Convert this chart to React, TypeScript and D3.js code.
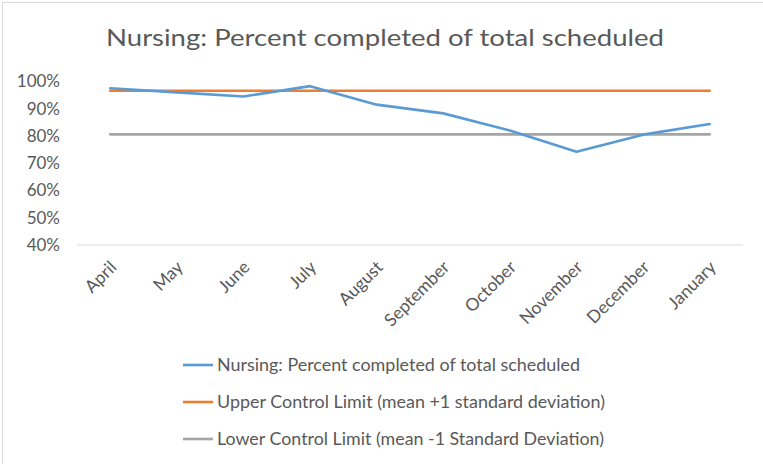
import React from "react";
import * as d3 from "d3";

const months = ["April", "May", "June", "July", "August", "September", "October", "November", "December", "January"];
const nursing = [0.975, 0.96, 0.945, 0.983, 0.915, 0.883, 0.82, 0.742, 0.805, 0.844];
const upperLimit = [0.966, 0.966, 0.966, 0.966, 0.966, 0.966, 0.966, 0.966, 0.966, 0.966];
const lowerLimit = [0.806, 0.806, 0.806, 0.806, 0.806, 0.806, 0.806, 0.806, 0.806, 0.806];
const yTicks = [0.4, 0.5, 0.6, 0.7, 0.8, 0.9, 1.0];
const seriesNames = [
  "Nursing: Percent completed of total scheduled",
  "Upper Control Limit (mean +1 standard deviation)",
  "Lower Control Limit (mean -1 Standard Deviation)",
];
const colors = ["#5B9BD5", "#ED7D31", "#A5A5A5"];

const W = 763;
const H = 464;
const FONT = "Lato, 'Open Sans', sans-serif";
const TXT = "#595959";
const legendWidths = [363, 388, 387];

export default function App() {
  const x = d3.scaleBand<string>().domain(months).range([77, 743]);
  const cx = (m: string) => (x(m) as number) + x.bandwidth() / 2;
  const y = d3.scaleLinear().domain([0.4, 1.0]).range([245, 81.5]);
  const line = d3
    .line<number>()
    .x((_, i) => cx(months[i]))
    .y((d) => y(d));
  const series = [nursing, upperLimit, lowerLimit];
  const fmt = d3.format(".0%");

  return (
    <svg
      width={W}
      height={H}
      style={{ position: "absolute", left: 0, top: 0, background: "#fff" }}
      fontFamily={FONT}
    >
      <rect x={0} y={0} width={W} height={H} fill="#fff" />
      <rect x={2.5} y={2.5} width={W + 10} height={H + 10} fill="none" stroke="#D9D9D9" strokeWidth={1} />
      <text
        x={385}
        y={46}
        textAnchor="middle"
        fontSize={23}
        fill={TXT}
        textLength={558}
        lengthAdjust="spacingAndGlyphs"
      >
        Nursing: Percent completed of total scheduled
      </text>
      {yTicks.map((t) => (
        <text key={t} x={60} y={y(t)} dy="0.35em" textAnchor="end" fontSize={17} fill={TXT}>
          {fmt(t)}
        </text>
      ))}
      <line x1={77} x2={743} y1={y(0.4)} y2={y(0.4)} stroke="#D9D9D9" strokeWidth={1} />
      {months.map((m) => (
        <text
          key={m}
          transform={`translate(${cx(m) + 3},${y(0.4) + 19}) rotate(-45)`}
          textAnchor="end"
          dy="0.35em"
          fontSize={17.5}
          fill={TXT}
        >
          {m}
        </text>
      ))}
      {[2, 1, 0].map((i) => (
        <path
          key={i}
          d={line(series[i]) as string}
          fill="none"
          stroke={colors[i]}
          strokeWidth={2.6}
          strokeLinejoin="round"
          strokeLinecap="round"
        />
      ))}
      {seriesNames.map((name, i) => (
        <g key={name} transform={`translate(0,${365 + i * 37})`}>
          <line x1={183} x2={213} y1={0} y2={0} stroke={colors[i]} strokeWidth={2.6} />
          <text
            x={217}
            y={0}
            dy="0.35em"
            fontSize={16.5}
            fill={TXT}
            textLength={legendWidths[i]}
            lengthAdjust="spacingAndGlyphs"
          >
            {name}
          </text>
        </g>
      ))}
    </svg>
  );
}
